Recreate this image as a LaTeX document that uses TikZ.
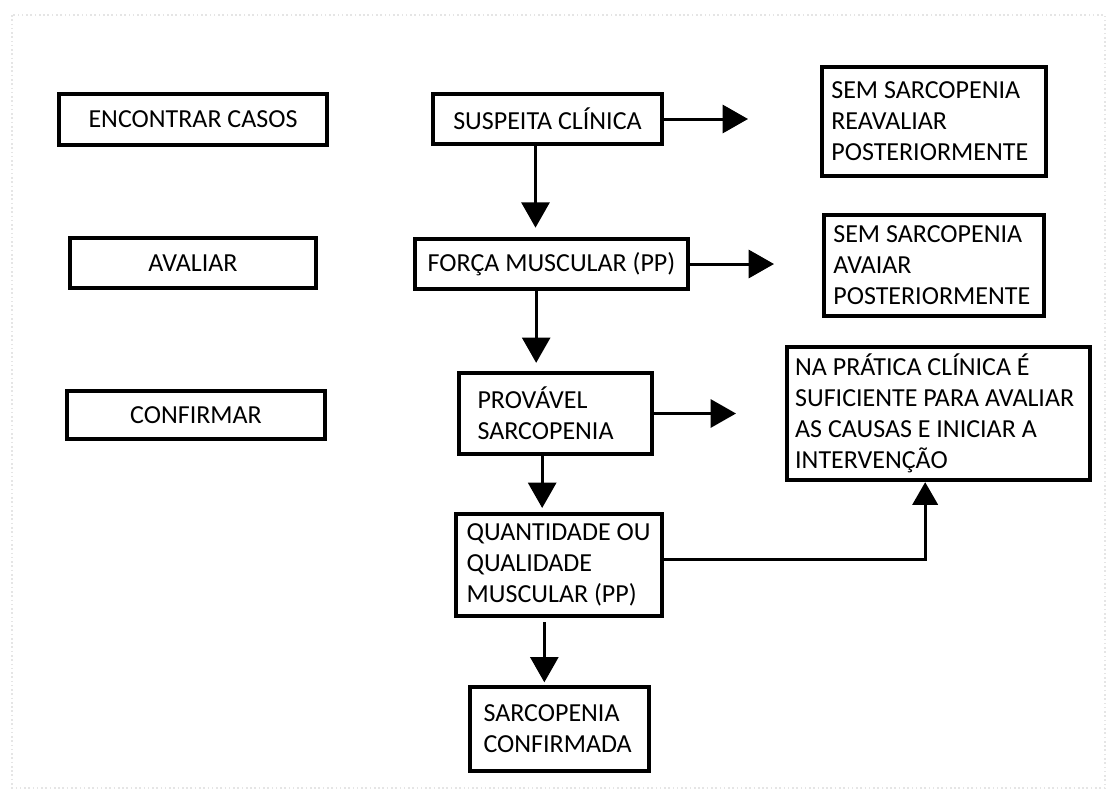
\documentclass[tikz,border=0pt]{standalone}
\usepackage{fontspec}
\setmainfont{Carlito}
\usepackage{tikz}
\usetikzlibrary{arrows.meta}

\begin{document}
\begin{tikzpicture}[x=0.75pt,y=-0.75pt,>={Triangle[length=19pt,width=21pt]}]
                \tikzset{box/.style={draw, line width=3pt, inner sep=0pt, font=\fontsize{19.5}{23.25}\selectfont},
                         txtbox/.style={box, align=flush left},
                         arr/.style={->, line width=2.25pt},
                         arrthin/.style={-{Triangle[length=17pt,width=19pt]}, line width=2pt}}

                \useasboundingbox (0,0) rectangle (1112,803);
                \draw[gray!20, dotted, line width=1.2pt] (12,15) rectangle (1105,788);

                \node[box, minimum width=201pt, minimum height=38pt] (casos) at (193,119.5) {ENCONTRAR CASOS};
                \node[box, minimum width=184.5pt, minimum height=37.5pt] (avaliar) at (193,263) {AVALIAR};
                \node[box, minimum width=193.5pt, minimum height=36pt] (confirmar) at (196,415) {CONFIRMAR};

                \node[box, minimum width=172pt, minimum height=37.5pt] (susp) at (547.5,119) {SUSPEITA CLÍNICA};
                \node[box, minimum width=205pt, minimum height=37.5pt] (forca) at (551.5,264) {FORÇA MUSCULAR (PP)};
                \node[txtbox, text width=117pt, inner xsep=14pt, minimum height=61pt] (provavel) at (555.5,413.5) {PROVÁVEL\\SARCOPENIA};
                \node[txtbox, text width=138.5pt, inner xsep=8pt, minimum height=76.5pt] (quant) at (559,565) {QUANTIDADE OU\\QUALIDADE\\MUSCULAR (PP)};
                \node[txtbox, text width=114pt, inner xsep=10pt, minimum height=63pt] (confirmada) at (559.5,729) {SARCOPENIA\\CONFIRMADA};

                \node[txtbox, text width=154pt, inner xsep=7pt, minimum height=82pt] (sem1) at (934,121.5) {SEM SARCOPENIA\\REAVALIAR\\POSTERIORMENTE};
                \node[txtbox, text width=151pt, inner xsep=7pt, minimum height=76pt] (sem2) at (934,265.5) {SEM SARCOPENIA\\AVAIAR\\POSTERIORMENTE};
                \node[txtbox, text width=215pt, inner xsep=6pt, minimum height=100pt] (pratica) at (938.5,413.5) {NA PRÁTICA CLÍNICA É\\SUFICIENTE PARA AVALIAR\\AS CAUSAS E INICIAR A\\INTERVENÇÃO};

                \coordinate (e1) at (748,119);
                \coordinate (e2) at (774,264);
                \coordinate (e3) at (736,413.5);
                \coordinate (s1) at ([xshift=-9pt]susp.south);
                \coordinate (s2) at ([xshift=-11.5pt]forca.south);
                \coordinate (s3) at ([xshift=-10pt]provavel.south);
                \coordinate (s4) at ([xshift=-11pt]quant.south);
                \coordinate (q1) at ([yshift=4pt]quant.east);
                \coordinate (p1) at ([xshift=-10pt]pratica.south);

                \path[arr] (susp) edge (e1);
                \path[arr] (forca) edge (e2);
                \path[arr] (provavel) edge (e3);
                \path[arr, shorten >=7pt] (s1) edge (s1 |- forca.north);
                \path[arr, shorten >=6pt] (s2) edge (s2 |- provavel.north);
                \path[arr, shorten >=3pt] (s3) edge (s3 |- quant.north);
                \path[arr, shorten >=2pt, shorten <=3pt] (s4) edge (s4 |- confirmada.north);
                \draw[arrthin] (q1) -| (p1);
            \end{tikzpicture}
\end{document}
